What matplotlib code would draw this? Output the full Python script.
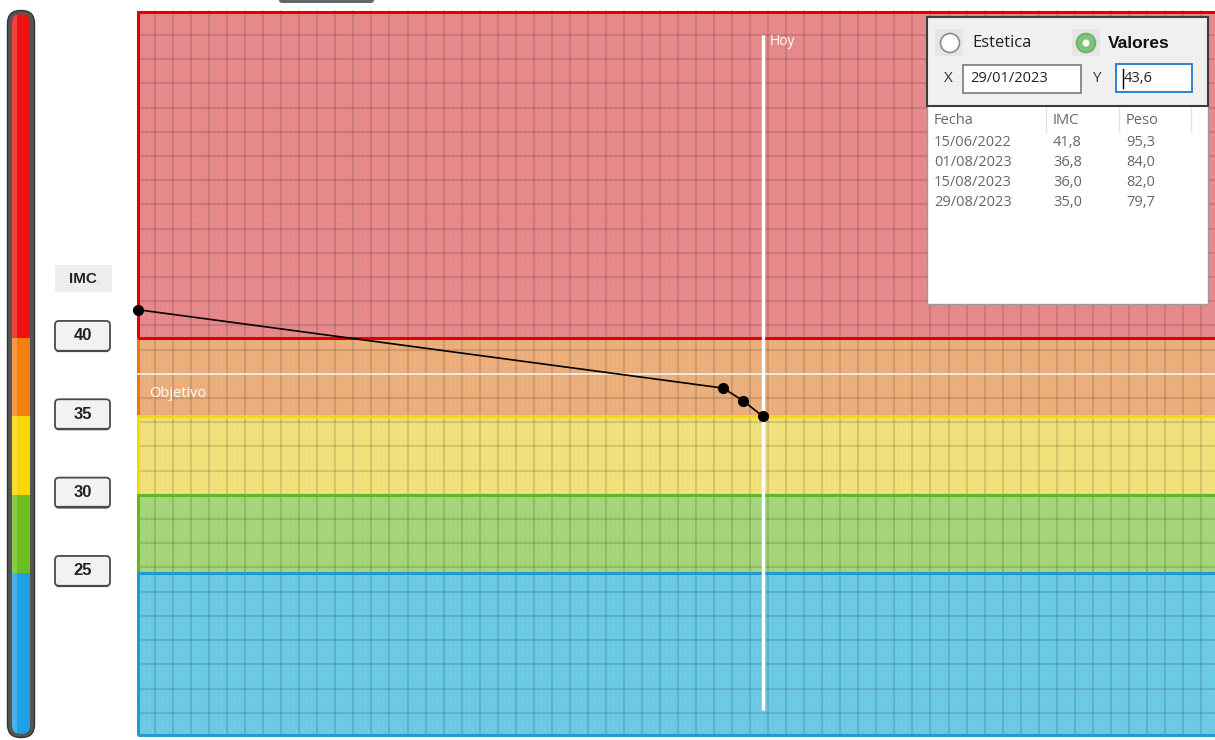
import matplotlib
matplotlib.use('Agg')
import matplotlib.pyplot as plt
import matplotlib.dates as mdates
from matplotlib.patches import Rectangle, FancyBboxPatch, Circle
import numpy as np
from datetime import datetime

# ========== Datos ==========
fechas = ['15/06/2022', '01/08/2023', '15/08/2023', '29/08/2023']
imc = [41.8, 36.8, 36.0, 35.0]
peso = [95.3, 84.0, 82.0, 79.7]
limites = [25, 30, 35, 40]          # limites entre zonas de IMC
etiquetas_imc = [40, 35, 30, 25]
objetivo = 37.7
hoy = '29/08/2023'
campo_x = '29/01/2023'
campo_y = '43,6'

# zonas: (relleno, borde, color barra)
zona_azul = ('#6ccbe6', '#1e9ad8', '#1ea0e6')
zona_verde = ('#a6d67a', '#5fb81e', '#6cbe1e')
zona_amarilla = ('#f1e27c', '#f8d800', '#f8d800')
zona_naranja = ('#edb07c', '#f07800', '#f57f10')
zona_roja = ('#e88a8c', '#e00000', '#ee1111')

plt.rcParams['font.family'] = ['Open Sans', 'DejaVu Sans']
negrita = ['Liberation Sans', 'DejaVu Sans']

W, Hgt = 1215, 740
fig = plt.figure(figsize=(W / 100, Hgt / 100), dpi=100)
ax = fig.add_axes([137 / W, 3 / Hgt, 1078 / W, 727 / Hgt])
ax.set_zorder(1)

dias = [mdates.date2num(datetime.strptime(f, '%d/%m/%Y')) for f in fechas]
dia_hoy = mdates.date2num(datetime.strptime(hoy, '%d/%m/%Y'))
px_dia = 1.42
x0 = dias[0] - 0.7
x1 = x0 + 1078 / px_dia
ymin, ymax = 14.53, 60.93
ax.set_xlim(x0, x1)
ax.set_ylim(ymin, ymax)
ax.axis('off')

bandas = {
    'naranja': (limites[2], limites[3], zona_naranja),
    'roja': (limites[3], ymax - 0.1, zona_roja),
    'amarilla': (limites[1], limites[2], zona_amarilla),
    'verde': (limites[0], limites[1], zona_verde),
    'azul': (ymin + 0.12, limites[0], zona_azul),
}

# rellenos
for lo, hi, c in bandas.values():
    ax.add_patch(Rectangle((x0 + 1, lo), x1 - x0 + 50, hi - lo, fc=c[0], ec='none', zorder=1))

# cuadricula
for xv in np.arange(dias[0] + 12, x1, 12.7):
    ax.axvline(xv, color='black', alpha=0.12, lw=1.6, zorder=2)
    for k in range(1, 4):
        ax.axvline(xv - 12.7 * k / 4, color='black', alpha=0.018, lw=0.6, zorder=2)
for yv in np.arange(59.34, ymin, -1.545):
    ax.axhline(yv, color='black', alpha=0.12, lw=1.6, zorder=2)
    for k in range(1, 4):
        ax.axhline(yv + 1.545 * k / 4, color='black', alpha=0.018, lw=0.6, zorder=2)

# bordes
for lo, hi, c in bandas.values():
    ax.add_patch(Rectangle((x0 + 1, lo), x1 - x0 + 50, hi - lo, fill=False,
                           ec=c[1], lw=2.2, zorder=3))

# objetivo y hoy
ax.axhline(objetivo, color='white', lw=1.1, zorder=4)
ax.text(dias[0] + 7.7, 36.43, 'Objetivo', color='white', fontsize=10.5, va='center', zorder=4)
ax.plot([dia_hoy, dia_hoy], [16.26, 59.34], color='white', lw=2.4, zorder=4, solid_capstyle='butt')
ax.text(dia_hoy + 5, 58.9, 'Hoy', color='white', fontsize=10, va='center', zorder=4)

# evolucion del IMC
ax.plot(dias, imc, color='black', lw=1.2, marker='o', ms=7, zorder=5, clip_on=False)


def ypx(v):
    return Hgt - ax.transData.transform((x0, v))[1]


# ========== Capa de interfaz (pixeles) ==========
ov = fig.add_axes([0, 0, 1, 1])
ov.set_xlim(0, W)
ov.set_ylim(Hgt, 0)
ov.axis('off')
ov.set_zorder(3)

# barra de colores izquierda
ov.add_patch(FancyBboxPatch((7.5, 10.5), 27, 727, boxstyle='round,pad=0,rounding_size=13',
                            fc='#555555', ec='#333333', lw=1))
interior = FancyBboxPatch((12, 14), 18, 720, boxstyle='round,pad=0,rounding_size=9',
                          fc='none', ec='none')
ov.add_patch(interior)
cortes = [0, ypx(limites[3]), ypx(limites[2]), ypx(limites[1]), ypx(limites[0]), Hgt]
colores_barra = [zona_roja[2], zona_naranja[2], zona_amarilla[2], zona_verde[2], zona_azul[2]]
for i, col in enumerate(colores_barra):
    r = Rectangle((10, cortes[i]), 22, cortes[i + 1] - cortes[i], fc=col, ec='none')
    ov.add_patch(r)
    r.set_clip_path(interior)
luz = Rectangle((12, 0), 5, Hgt, fc='white', alpha=0.2, ec='none')
ov.add_patch(luz)
luz.set_clip_path(interior)

# etiqueta IMC y botones
ov.add_patch(Rectangle((55, 265), 57, 27, fc='#ededed', ec='none'))
ov.text(83, 279, 'IMC', fontsize=11, fontweight='bold', family=negrita, color='#222222',
        ha='center', va='center')
for v in etiquetas_imc:
    yc = ypx(v) - 2
    ov.add_patch(FancyBboxPatch((55, yc - 15), 55, 30, boxstyle='round,pad=0,rounding_size=4',
                                fc='#f2f2f2', ec='#4a4a4a', lw=1.3))
    ov.plot([58, 107], [yc + 14.6, yc + 14.6], color='#4a4a4a', lw=1.6)
    ov.text(82.5, yc, str(v), fontsize=12, fontweight='bold', family=negrita, color='#222222',
            ha='center', va='center')

# boton cortado arriba
ov.add_patch(FancyBboxPatch((279, -8), 95, 11, boxstyle='round,pad=0,rounding_size=3',
                            fc='#5e6868', ec='none'))

# panel de valores
ov.add_patch(Rectangle((927, 17), 281, 287, fc='white', ec='#9a9a9a', lw=1))
ov.add_patch(Rectangle((927, 17), 281, 89, fc='#f0f0f0', ec='#3c3c3c', lw=1.5))
ov.add_patch(Rectangle((935, 29), 28, 27, fc='#e6e6e6', ec='none'))
ov.add_patch(Rectangle((1072, 29), 28, 27, fc='#e6e6e6', ec='none'))
ov.add_patch(Circle((950, 43), 9.5, fc='white', ec='#8a8a8a', lw=1.2))
ov.add_patch(Circle((1086, 43), 9.5, fc='#7cc47c', ec='#66b266', lw=1.2))
ov.add_patch(Circle((1086, 43), 3.5, fc='white', ec='none'))
ov.text(972, 43, 'Estetica', fontsize=12, color='#222222', va='center')
ov.text(1108, 43, 'Valores', fontsize=12.5, fontweight='bold', family=negrita,
        color='#111111', va='center')
ov.text(948, 78, 'X', fontsize=11, color='#333333', va='center', ha='center')
ov.text(1096, 78, 'Y', fontsize=11, color='#333333', va='center', ha='center')
ov.add_patch(Rectangle((963, 65), 118, 28, fc='white', ec='#7a7a7a', lw=1.2))
ov.text(970, 79, campo_x, fontsize=10.5, color='#222222', va='center')
ov.add_patch(Rectangle((1116, 64), 76, 28, fc='white', ec='#1a78d0', lw=1.3))
ov.text(1124, 78, campo_y, fontsize=10.5, color='#222222', va='center')
ov.plot([1123, 1123], [69, 88], color='black', lw=1)

# lista
col_x = [934, 1053, 1126]
for xs in [1046, 1119, 1191]:
    ov.plot([xs, xs], [108, 132], color='#e2e2e2', lw=1)
for xc, h in zip(col_x, ['Fecha', 'IMC', 'Peso']):
    ov.text(xc, 120, h, fontsize=10.5, color='#666666', va='center')
for i, (f, v, p) in enumerate(zip(fechas, imc, peso)):
    yr = 143 + i * 19.8
    ov.text(col_x[0], yr, f, fontsize=10.5, color='#666666', va='center')
    ov.text(col_x[1], yr, f'{v:.1f}'.replace('.', ','), fontsize=10.5, color='#666666', va='center')
    ov.text(col_x[2], yr, f'{p:.1f}'.replace('.', ','), fontsize=10.5, color='#666666', va='center')

fig.savefig('out.png', dpi=100)
